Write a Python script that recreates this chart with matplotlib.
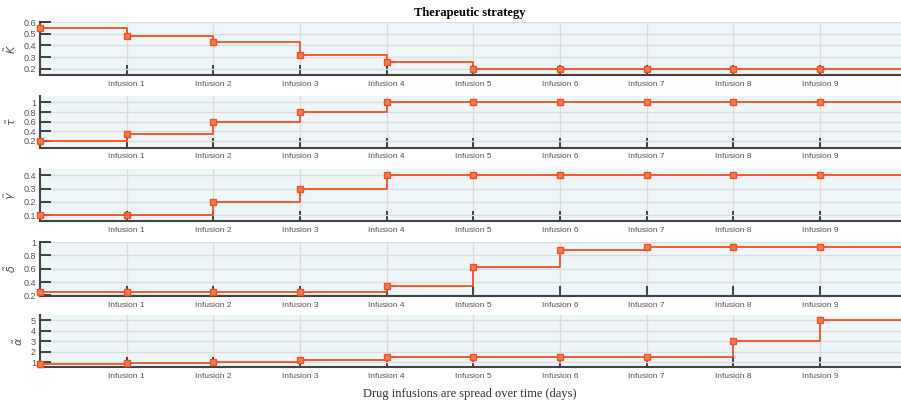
import matplotlib
matplotlib.use('Agg')
import matplotlib.pyplot as plt

# values at day 0 and at each infusion
days = list(range(10))
K = [0.55, 0.48, 0.43, 0.32, 0.26, 0.2, 0.2, 0.2, 0.2, 0.2]
tau = [0.2, 0.35, 0.6, 0.8, 1.0, 1.0, 1.0, 1.0, 1.0, 1.0]
gam = [0.1, 0.1, 0.2, 0.3, 0.4, 0.4, 0.4, 0.4, 0.4, 0.4]
delta = [0.25, 0.25, 0.25, 0.25, 0.34, 0.62, 0.88, 0.93, 0.93, 0.93]
alpha = [0.8, 0.9, 1.03, 1.22, 1.5, 1.5, 1.5, 1.5, 3.0, 5.0]
xlabels = ['Infusion %d' % i for i in range(1, 10)]

series = [K, tau, gam, delta, alpha]
names = [r'$\tilde{K}$', r'$\tilde{\tau}$', r'$\tilde{\gamma}$', r'$\tilde{\delta}$', r'$\tilde{\alpha}$']
yticks = [[0.2, 0.3, 0.4, 0.5, 0.6], [0.2, 0.4, 0.6, 0.8, 1], [0.1, 0.2, 0.3, 0.4],
          [0.2, 0.4, 0.6, 0.8, 1], [1, 2, 3, 4, 5]]
yticklab = [['0.2', '0.3', '0.4', '0.5', '0.6'], ['0.2', '0.4', '0.6', '0.8', '1'],
            ['0.1', '0.2', '0.3', '0.4'], ['0.2', '0.4', '0.6', '0.8', '1'],
            ['1', '2', '3', '4', '5']]
ylims = [(0.148, 0.6), (0.06, 1.14), (0.055, 0.448), (0.19, 1.0), (0.52, 5.5)]
# axes boxes in figure pixels (top, bottom)
boxes = [(22, 75), (95.7, 147.7), (169, 221), (242, 296), (315, 367.3)]

W, H = 901, 404
fig = plt.figure(figsize=(W / 100, H / 100), dpi=100)
col = '#f4511e'

for s, nm, yt, ytl, yl, (top, bot) in zip(series, names, yticks, yticklab, ylims, boxes):
    ax = fig.add_axes([40 / W, (H - bot) / H, 866.7 / W, (bot - top) / H])
    ax.set_facecolor('#eff6fa')
    ax.step(days + [10], s + [s[-1]], where='post', color=col, lw=1.3, zorder=3)
    ax.plot(days, s, 's', ms=3.8, mfc='#f27a55', mec=col, mew=1, zorder=4, clip_on=False)
    ax.set_xlim(0, 10)
    ax.set_ylim(*yl)
    ax.set_xticks(range(1, 10))
    ax.set_xticklabels(xlabels, fontsize=6, color='#555555', family='Liberation Sans')
    ax.set_yticks(yt)
    ax.set_yticklabels(ytl, fontsize=6.5, color='#555555', family='Liberation Sans')
    ax.tick_params(axis='x', direction='in', length=7, width=1.3, color='#333333', pad=4)
    ax.tick_params(axis='y', direction='in', length=8, width=1.3, color='#333333', pad=3)
    ax.grid(True, color='#dcdcdc', lw=1)
    ax.set_axisbelow(True)
    for sp in ['top', 'right']:
        ax.spines[sp].set_visible(False)
    for sp in ['left', 'bottom']:
        ax.spines[sp].set_color('#444444')
        ax.spines[sp].set_linewidth(1.5)
    ax.set_ylabel(nm, fontsize=8, color='#555555', labelpad=4)

fig.text(470 / W, 1 - 13 / H, 'Therapeutic strategy', ha='center', va='center',
         fontsize=9, fontweight='bold', family='Liberation Serif')
fig.text(470 / W, 1 - 394 / H, 'Drug infusions are spread over time (days)', ha='center',
         va='center', fontsize=9, family='Liberation Serif', color='#333333')

fig.savefig('out.png', dpi=100)
